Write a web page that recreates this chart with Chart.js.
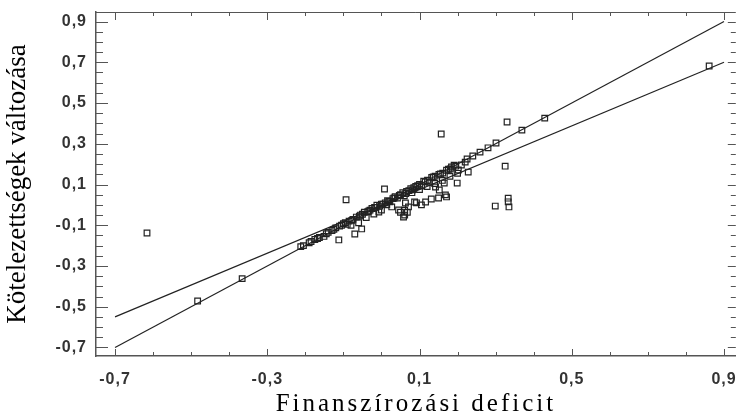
<!DOCTYPE html>
<html><head><meta charset="utf-8">
<script src="https://cdn.jsdelivr.net/npm/chart.js@4/dist/chart.umd.min.js"></script>
<style>html,body{margin:0;padding:0;background:#fff}#wrap{width:741px;height:416px;position:relative}</style>
</head><body><div id="wrap"><canvas id="c" width="741" height="416"></canvas></div>
<script>
const xTickValues = [-0.7, -0.3, 0.1, 0.5, 0.9];
const yTickValues = [-0.7, -0.5, -0.3, -0.1, 0.1, 0.3, 0.5, 0.7, 0.9];
const xTitle = 'Finanszírozási deficit';
const yTitle = 'Kötelezettségek változása';

const obsX = [-0.616,-0.483,-0.366,-0.212,-0.190,-0.175,-0.163,-0.151,-0.140,-0.130,-0.120,-0.112,-0.110,-0.100,-0.093,-0.090,-0.085,-0.080,-0.075,-0.070,-0.066,-0.060,-0.058,-0.052,-0.050,-0.045,-0.040,-0.036,-0.030,-0.025,-0.020,-0.018,-0.012,-0.007,-0.005,0.000,0.000,0.008,0.010,0.014,0.016,0.022,0.027,0.030,0.036,0.042,0.045,0.050,0.050,0.056,0.058,0.060,0.061,0.061,0.063,0.064,0.068,0.071,0.072,0.077,0.080,0.082,0.087,0.090,0.092,0.100,0.100,0.105,0.106,0.111,0.116,0.120,0.121,0.126,0.131,0.132,0.140,0.141,0.142,0.150,0.151,0.152,0.157,0.160,0.161,0.165,0.168,0.171,0.171,0.180,0.181,0.184,0.191,0.199,0.200,0.202,0.210,0.220,0.225,0.228,0.259,0.299,0.301,0.325,0.330,0.333,0.333,0.335,0.369,0.429,0.861,
  -0.205,-0.185,-0.168,-0.145,-0.125,-0.105,-0.095,-0.078,-0.055,-0.033,-0.015,0.004,0.019,0.033,0.047,0.066,0.085,0.095,0.115,0.136,0.155,0.176,0.195,0.240,0.280];
const obsY = [-0.138,-0.472,-0.362,-0.205,-0.186,-0.170,-0.160,-0.155,-0.135,-0.126,-0.113,-0.172,-0.104,-0.092,0.025,-0.096,-0.080,-0.100,-0.071,-0.143,-0.060,-0.088,-0.055,-0.118,-0.046,-0.036,-0.062,-0.034,-0.026,-0.018,-0.045,-0.012,-0.002,-0.035,-0.006,0.004,-0.025,0.078,0.010,0.000,0.021,0.015,-0.010,0.031,0.040,0.034,-0.025,-0.036,0.050,0.060,-0.060,0.045,-0.050,-0.026,0.009,0.056,-0.036,-0.010,0.070,0.079,0.060,0.074,0.014,0.090,0.010,0.075,0.101,0.000,0.094,0.116,0.014,0.090,0.121,0.111,0.029,0.135,0.105,0.141,0.088,0.034,0.150,0.073,0.348,0.120,0.156,0.107,0.049,0.039,0.170,0.140,0.176,0.186,0.195,0.107,0.155,0.171,0.196,0.210,0.225,0.161,0.259,-0.006,0.304,0.190,0.407,0.033,0.015,-0.010,0.367,0.426,0.682,
  -0.200,-0.180,-0.165,-0.142,-0.120,-0.100,-0.088,-0.076,-0.050,-0.030,-0.012,0.004,0.017,0.034,0.046,0.066,0.085,0.094,0.113,0.137,0.152,0.175,0.190,0.240,0.280];

const fitAX = [-0.7, 0.9];
const fitAY = [-0.7, 0.9];
const fitBX = [-0.7, 0.9];
const fitBY = [-0.55, 0.7];

const fmt = v => v.toFixed(1).replace('.', ',');
const toPts = (xs, ys) => xs.map((x, i) => ({x, y: ys[i]}));

function spaced(s, titleSp, labelSp) {
  if (s._spacedPatch) return;
  s._spacedPatch = true;
  const dt = s.drawTitle.bind(s), dl = s.drawLabels.bind(s);
  s.drawTitle = function () { const c = this.ctx, o = c.letterSpacing; c.letterSpacing = titleSp; dt(); c.letterSpacing = o; };
  s.drawLabels = function (a) { const c = this.ctx, o = c.letterSpacing; c.letterSpacing = labelSp; dl(a); c.letterSpacing = o; };
}

const frameTicks = {
  id: 'frameTicks',
  afterDraw(chart) {
    const {ctx, chartArea: a, scales: {x, y}} = chart;
    ctx.save();
    ctx.strokeStyle = '#555';
    ctx.lineWidth = 1;
    ctx.beginPath();
    ctx.moveTo(a.left, a.top + 0.5); ctx.lineTo(a.right, a.top + 0.5);
    ctx.stroke();
    ctx.beginPath();
    for (let i = 0; i <= 16; i++) {
      const px = Math.round(x.getPixelForValue(-0.7 + i * 0.1)) + 0.5;
      const major = i % 4 === 0;
      ctx.moveTo(px, a.bottom); ctx.lineTo(px, a.bottom - (major ? 7 : 4));
      ctx.moveTo(px, a.top); ctx.lineTo(px, a.top + (major ? 8 : 4));
    }
    for (let i = 0; i <= 32; i++) {
      const py = Math.round(y.getPixelForValue(-0.7 + i * 0.05)) + 0.5;
      const major = i % 4 === 0;
      ctx.moveTo(a.left, py); ctx.lineTo(a.left + (major ? 12 : 7), py);
      ctx.moveTo(a.right, py); ctx.lineTo(a.right - (major ? 8 : 5), py);
    }
    ctx.stroke();
    ctx.restore();
  }
};

new Chart(document.getElementById('c'), {
  type: 'scatter',
  data: {
    datasets: [
      {data: toPts(obsX, obsY), pointStyle: 'rect', pointRadius: 4, borderColor: '#222', borderWidth: 1.2, backgroundColor: 'rgba(0,0,0,0)'},
      {type: 'line', data: toPts(fitAX, fitAY), borderColor: '#222', borderWidth: 1.2, pointRadius: 0, fill: false},
      {type: 'line', data: toPts(fitBX, fitBY), borderColor: '#222', borderWidth: 1.2, pointRadius: 0, fill: false}
    ]
  },
  options: {
    responsive: false,
    animation: false,
    devicePixelRatio: 1,
    layout: {padding: {top: 12, right: 2, left: 0, bottom: 0}},
    plugins: {legend: {display: false}, tooltip: {enabled: false}},
    scales: {
      x: {
        type: 'linear', min: -0.75, max: 0.931,
        afterBuildTicks: s => { s.ticks = xTickValues.map(v => ({value: v})); },
        afterFit: s => { s.height = 60; s.paddingLeft = 0; s.paddingRight = 0; spaced(s, '3px', '1px'); },
        grid: {display: false, drawTicks: false},
        border: {display: true, color: '#555', width: 1.5},
        ticks: {callback: v => fmt(v), color: '#333', font: {family: 'Liberation Sans', size: 16, weight: 'bold'}, padding: 14, maxRotation: 0, autoSkip: false},
        title: {display: true, text: xTitle, color: '#000', font: {family: 'Liberation Serif', size: 25}, padding: {top: 0, bottom: -3}}
      },
      y: {
        type: 'linear', min: -0.742, max: 0.947,
        afterBuildTicks: s => { s.ticks = yTickValues.map(v => ({value: v})); },
        afterFit: s => { s.width = 96; s.paddingTop = 0; s.paddingBottom = 0; spaced(s, '0px', '1px'); },
        grid: {display: false, drawTicks: false},
        border: {display: true, color: '#555', width: 1.5},
        ticks: {callback: v => fmt(v), color: '#333', font: {family: 'Liberation Sans', size: 16, weight: 'bold'}, padding: 9, autoSkip: false},
        title: {display: true, text: yTitle, color: '#000', font: {family: 'Liberation Serif', size: 27}, padding: {top: 2, bottom: 0}}
      }
    }
  },
  plugins: [frameTicks]
});
</script></body></html>
